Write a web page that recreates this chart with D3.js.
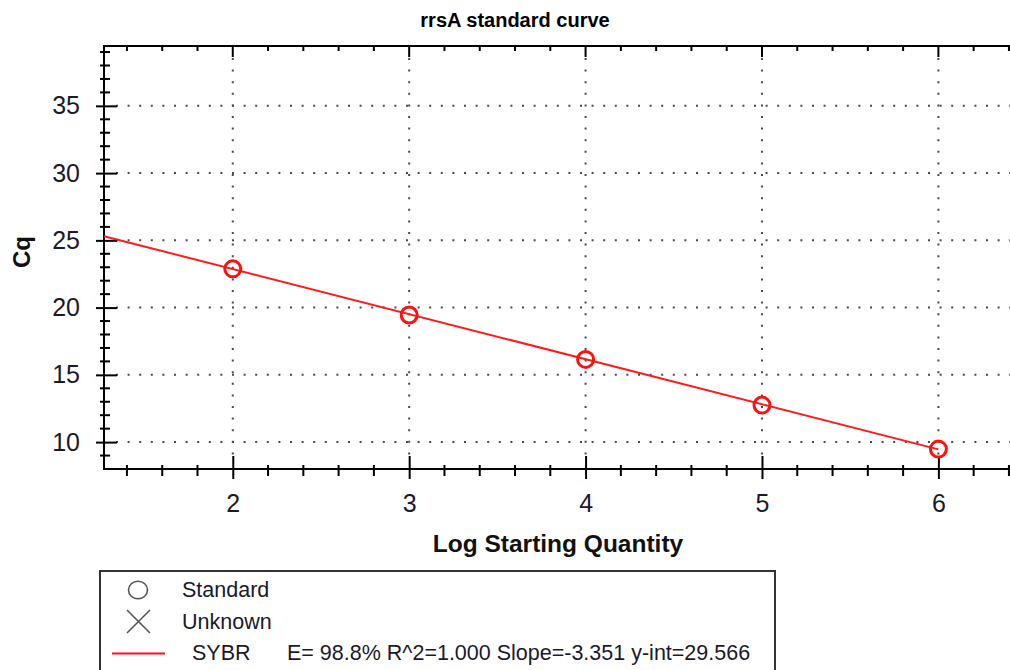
<!DOCTYPE html>
<html>
<head>
<meta charset="utf-8">
<script src="https://cdn.jsdelivr.net/npm/d3@7"></script>
<style>
  html, body { margin: 0; padding: 0; background: #fff; overflow: hidden; }
  svg { display: block; font-family: "Liberation Sans", Arial, sans-serif; }
</style>
</head>
<body>
<svg id="chart" width="1010" height="670"></svg>
<script>
// Standard curve data: log starting quantity vs quantification cycle
const logQuantity = [2, 3, 4, 5, 6];
const cqValues = [22.88, 19.45, 16.15, 12.75, 9.48];

// Regression reported for the SYBR standards
const fitSlope = -3.351;
const fitIntercept = 29.566;
const fitEfficiency = 98.8;
const fitR2 = 1.000;

const xTickValues = [2, 3, 4, 5, 6];
const yTickValues = [10, 15, 20, 25, 30, 35];

const chartTitle = "rrsA standard curve";
const xTitle = "Log Starting Quantity";
const yTitle = "Cq";
const legendNames = ["Standard", "Unknown", "SYBR"];

const svg = d3.select("#chart");
const plot = { left: 104, top: 46, right: 1016, bottom: 469 };

const x = d3.scaleLinear().domain([1.27, 6.44]).range([plot.left, plot.right]);
const y = d3.scaleLinear().domain([8, 39.45]).range([plot.bottom, plot.top]);

const xMinor = d3.range(7, 33).filter(i => i % 5 !== 0).map(i => i / 5);
const yMinor = d3.range(9, 40).filter(v => v % 5 !== 0);

// Dotted grid at major ticks
const grid = svg.append("g")
  .attr("stroke", "#4a4a4a").attr("stroke-width", 2)
  .attr("stroke-dasharray", "2,9.6");
grid.selectAll(".gh").data(yTickValues).join("line")
  .attr("x1", plot.left + 12).attr("x2", plot.right)
  .attr("y1", d => y(d)).attr("y2", d => y(d));
grid.selectAll(".gv").data(xTickValues).join("line")
  .attr("x1", d => x(d)).attr("x2", d => x(d))
  .attr("y1", plot.top + 12).attr("y2", plot.bottom - 12);

// Frame
svg.append("rect")
  .attr("x", plot.left).attr("y", plot.top)
  .attr("width", plot.right - plot.left).attr("height", plot.bottom - plot.top)
  .attr("fill", "none").attr("stroke", "#000").attr("stroke-width", 2);

// Left axis: labels from d3 axis, ticks crossing the spine
const yAxis = svg.append("g")
  .attr("transform", `translate(${plot.left},0)`)
  .call(d3.axisLeft(y).tickValues(yTickValues).tickSize(8).tickPadding(16).tickFormat(d3.format("d")));
yAxis.select(".domain").remove();
yAxis.selectAll(".tick line").attr("x1", 13).attr("x2", -8).attr("stroke", "#000").attr("stroke-width", 2);
yAxis.selectAll(".tick text")
  .attr("font-size", 25).attr("fill", "#1a1a2a")
  .attr("font-family", "'Liberation Sans', Arial, sans-serif");
svg.append("g").selectAll("line").data(yMinor).join("line")
  .attr("x1", plot.left - 4).attr("x2", plot.left + 6)
  .attr("y1", d => y(d)).attr("y2", d => y(d))
  .attr("stroke", "#000").attr("stroke-width", 2);

// Bottom axis
const xAxis = svg.append("g")
  .attr("transform", `translate(0,${plot.bottom})`)
  .call(d3.axisBottom(x).tickValues(xTickValues).tickSize(10).tickFormat(d3.format("d")));
xAxis.select(".domain").remove();
xAxis.selectAll(".tick line").attr("y1", -13).attr("y2", 10).attr("stroke", "#000").attr("stroke-width", 2);
xAxis.selectAll(".tick text")
  .attr("y", 43).attr("dy", 0)
  .attr("font-size", 25).attr("fill", "#1a1a2a")
  .attr("font-family", "'Liberation Sans', Arial, sans-serif");
svg.append("g").selectAll("line").data(xMinor).join("line")
  .attr("x1", d => x(d)).attr("x2", d => x(d))
  .attr("y1", plot.bottom - 4).attr("y2", plot.bottom + 7)
  .attr("stroke", "#000").attr("stroke-width", 2);

// Top axis ticks hanging into the plot
svg.append("g").selectAll("line").data(xTickValues).join("line")
  .attr("x1", d => x(d)).attr("x2", d => x(d))
  .attr("y1", plot.top).attr("y2", plot.top + 11)
  .attr("stroke", "#000").attr("stroke-width", 2);
svg.append("g").selectAll("line").data(xMinor).join("line")
  .attr("x1", d => x(d)).attr("x2", d => x(d))
  .attr("y1", plot.top).attr("y2", plot.top + 5)
  .attr("stroke", "#000").attr("stroke-width", 2);

// Regression line
const fitX = [x.domain()[0], d3.max(logQuantity)];
svg.append("path")
  .datum(fitX)
  .attr("fill", "none").attr("stroke", "#ff1a1a").attr("stroke-width", 2)
  .attr("d", d3.line().x(d => x(d)).y(d => y(fitSlope * d + fitIntercept)));

// Standards
svg.append("g").selectAll("circle").data(logQuantity).join("circle")
  .attr("cx", d => x(d)).attr("cy", (d, i) => y(cqValues[i]))
  .attr("r", 8).attr("fill", "none").attr("stroke", "#ff1010").attr("stroke-width", 3);

// Titles
svg.append("text").attr("x", 515).attr("y", 27).attr("text-anchor", "middle")
  .attr("font-size", 20).attr("font-weight", "bold").text(chartTitle);
svg.append("text").attr("x", 558).attr("y", 552).attr("text-anchor", "middle")
  .attr("font-size", 24.5).attr("font-weight", "bold").attr("fill", "#111").text(xTitle);
svg.append("text").attr("transform", "translate(30,252) rotate(-90)").attr("text-anchor", "middle")
  .attr("font-size", 24).attr("font-weight", "bold").attr("fill", "#111").text(yTitle);

// Legend
const legend = svg.append("g");
legend.append("rect").attr("x", 100).attr("y", 571).attr("width", 675).attr("height", 140)
  .attr("fill", "#fff").attr("stroke", "#333").attr("stroke-width", 2);
legend.append("ellipse").attr("cx", 138).attr("cy", 590).attr("rx", 9.5).attr("ry", 8.8)
  .attr("fill", "none").attr("stroke", "#555").attr("stroke-width", 1.6);
legend.append("path").attr("d", "M127,610L150,633M150,610L127,633")
  .attr("stroke", "#555").attr("stroke-width", 1.6).attr("fill", "none");
legend.append("line").attr("x1", 112).attr("x2", 165).attr("y1", 653.5).attr("y2", 653.5)
  .attr("stroke", "#ff1010").attr("stroke-width", 2);
const legText = (tx, ty, s) => legend.append("text").attr("x", tx).attr("y", ty)
  .attr("font-size", 21.5).attr("fill", "#1a1a2a").text(s);
legText(182, 597, legendNames[0]);
legText(182, 629, legendNames[1]);
legText(192, 660, legendNames[2]);
legText(287, 660,
  `E= ${fitEfficiency.toFixed(1)}% R^2=${fitR2.toFixed(3)} Slope=${fitSlope.toFixed(3)} y-int=${fitIntercept.toFixed(3)}`);
</script>
</body>
</html>
